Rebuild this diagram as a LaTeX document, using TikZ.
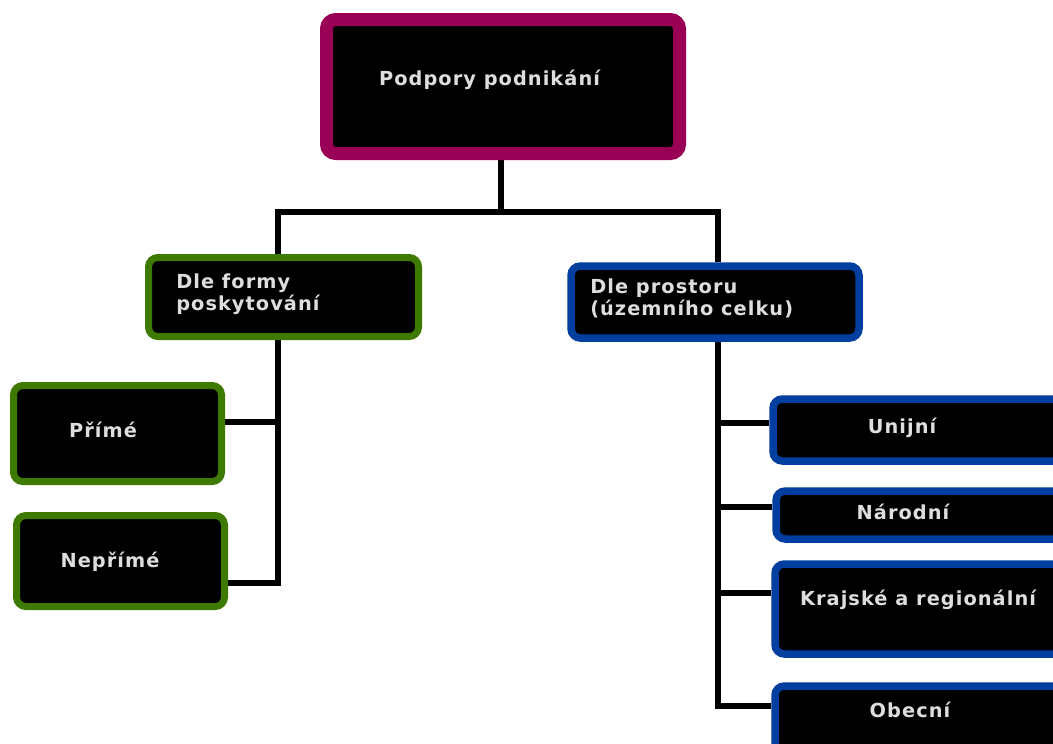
\documentclass[tikz,border=0pt]{standalone}
\usepackage{fontspec}
\setmainfont{DejaVu Sans}[LetterSpace=5.5]
\usetikzlibrary{backgrounds}
\definecolor{magb}{RGB}{153,0,85}
\definecolor{grnb}{RGB}{62,122,0}
\definecolor{blub}{RGB}{0,62,160}
\definecolor{txtg}{RGB}{222,222,222}
\tikzset{
  box/.style={draw, fill=black, rounded corners=7pt, inner sep=0pt},
  topbox/.style={box, draw=magb, line width=13*0.75pt},
  gbox/.style={box, draw=grnb, line width=7*0.75pt},
  bbox/.style={box, draw=blub, line width=7.5*0.75pt},
  lbl/.style={text=txtg, font=\fontsize{14.5}{16.5}\selectfont\bfseries, inner sep=0pt},
  conn/.style={line width=6*0.75pt, draw=black},
}
\begin{document}
\begin{tikzpicture}[x=0.75pt, y=-0.75pt]
\useasboundingbox (0,0) rectangle (1053,743);
\clip (0,0) rectangle (1053,743);
% boxes
\node[topbox, minimum width=353*0.75pt, minimum height=134*0.75pt] (top) at (503,86.5) {};
\node[lbl] (toptxt) at (489.5,80) {Podpory podnikání};

\node[gbox, minimum width=270*0.75pt, minimum height=79*0.75pt] (form) at (283.5,297) {};
\node[lbl, anchor=west, align=left] (formtxt) at (176,294) {Dle formy\\poskytování};

\node[gbox, minimum width=208*0.75pt, minimum height=96*0.75pt] (prime) at (117.5,433.5) {};
\node[lbl] (primetxt) at (103,430) {Přímé};

\node[gbox, minimum width=208*0.75pt, minimum height=91*0.75pt] (neprime) at (120.5,561) {};
\node[lbl] (neprimetxt) at (110,562) {Nepřímé};

\node[bbox, minimum width=288*0.75pt, minimum height=72*0.75pt] (space) at (715,302) {};
\node[lbl, anchor=west, align=left] (spacetxt) at (590,298) {Dle prostoru\\(územního celku)};

\node[bbox, minimum width=302*0.75pt, minimum height=62*0.75pt] (uni) at (924,430) {};
\node[lbl] (unitxt) at (902,428) {Unijní};

\node[bbox, minimum width=300*0.75pt, minimum height=48*0.75pt] (nar) at (926,515) {};
\node[lbl] (nartxt) at (903,512) {Národní};

\node[bbox, minimum width=300*0.75pt, minimum height=90*0.75pt] (kraj) at (925,609) {};
\node[lbl] (krajtxt) at (918,600) {Krajské a regionální};

\node[bbox, minimum width=300*0.75pt, minimum height=66*0.75pt] (obec) at (925,719) {};
\node[lbl] (obectxt) at (910,710) {Obecní};

% connectors
\coordinate (jL) at (278,212);
\coordinate (jR) at (718,212);
\coordinate (jM) at (501,212);
\begin{scope}[on background layer]
\draw[conn] (jM |- top.south) -- (jM);
\draw[conn] (jL |- form.north) -- (jL) -- (jR) -- (jR |- space.north);
\draw[conn] (jL |- form.south) -- (jL |- 0,583) -- (neprime.east |- 0,583);
\draw[conn] (jL |- 0,422) -- (prime.east |- 0,422);
\draw[conn] (jR |- space.south) -- (jR |- 0,706) -- (obec.west |- 0,706);
\draw[conn] (jR |- 0,423) -- (uni.west |- 0,423);
\draw[conn] (jR |- 0,507) -- (nar.west |- 0,507);
\draw[conn] (jR |- 0,593) -- (kraj.west |- 0,593);
\end{scope}
\end{tikzpicture}
\end{document}
